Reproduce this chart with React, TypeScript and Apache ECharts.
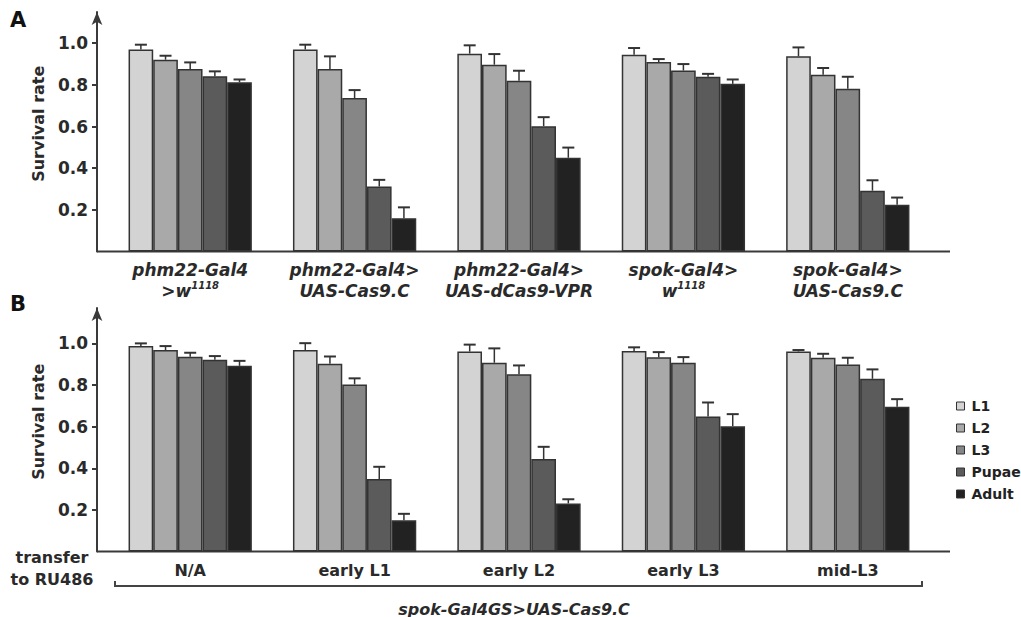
import React, { useEffect, useRef } from "react";
import * as echarts from "echarts";

const stages = ["L1", "L2", "L3", "Pupae", "Adult"];
const stageColors = ["#d3d3d3", "#a9a9a9", "#868686", "#5b5b5b", "#222222"];

const categoriesA = [
  "phm22-Gal4|>w|1118",
  "phm22-Gal4>|UAS-Cas9.C",
  "phm22-Gal4>|UAS-dCas9-VPR",
  "spok-Gal4>|w|1118",
  "spok-Gal4>|UAS-Cas9.C",
];
const categoriesB = ["N/A", "early L1", "early L2", "early L3", "mid-L3"];
const yTicks = [0.2, 0.4, 0.6, 0.8, 1.0];

// Panel A survival rates (mean) per stage, across the 5 genotypes
const aL1 = [0.97, 0.97, 0.95, 0.945, 0.937];
const aL2 = [0.921, 0.876, 0.897, 0.91, 0.849];
const aL3 = [0.876, 0.737, 0.82, 0.869, 0.781];
const aPupae = [0.842, 0.312, 0.602, 0.839, 0.292];
const aAdult = [0.813, 0.16, 0.45, 0.805, 0.225];
// Panel A error (upper bar length)
const aL1Err = [0.023, 0.023, 0.04, 0.032, 0.043];
const aL2Err = [0.019, 0.061, 0.051, 0.014, 0.032];
const aL3Err = [0.032, 0.038, 0.048, 0.031, 0.058];
const aPupaeErr = [0.023, 0.032, 0.043, 0.014, 0.05];
const aAdultErr = [0.013, 0.052, 0.049, 0.021, 0.034];

// Panel B survival rates per stage, across the 5 transfer times
const bL1 = [0.987, 0.968, 0.961, 0.963, 0.961];
const bL2 = [0.968, 0.902, 0.907, 0.933, 0.931];
const bL3 = [0.936, 0.803, 0.852, 0.907, 0.899];
const bPupae = [0.921, 0.348, 0.444, 0.649, 0.83];
const bAdult = [0.892, 0.15, 0.231, 0.602, 0.695];
const bL1Err = [0.013, 0.033, 0.033, 0.018, 0.007];
const bL2Err = [0.019, 0.035, 0.069, 0.025, 0.019];
const bL3Err = [0.019, 0.029, 0.042, 0.027, 0.032];
const bPupaeErr = [0.018, 0.059, 0.059, 0.067, 0.045];
const bAdultErr = [0.024, 0.031, 0.02, 0.058, 0.037];

const valuesA = [aL1, aL2, aL3, aPupae, aAdult];
const errorsA = [aL1Err, aL2Err, aL3Err, aPupaeErr, aAdultErr];
const valuesB = [bL1, bL2, bL3, bPupae, bAdult];
const errorsB = [bL1Err, bL2Err, bL3Err, bPupaeErr, bAdultErr];

const FONT = "DejaVu Sans";
const BAR_FRAC = 0.15;
const AXIS_COLOR = "#3a3a3a";

function labelA(v: string) {
  const parts = v.split("|");
  if (parts.length === 3) {
    return `{it|${parts[0]}}\n{it|${parts[1]}}{sup|${parts[2]}}`;
  }
  return `{it|${parts[0]}}\n{it|${parts[1]}}`;
}

function errData(values: number[][], errors: number[][]) {
  const out: number[][] = [];
  values.forEach((arr, s) => {
    arr.forEach((v, c) => {
      out.push([c, s, v, v + errors[s][c]]);
    });
  });
  return out;
}

function errRender(params: any, api: any) {
  const c = api.value(0);
  const s = api.value(1);
  const v = api.value(2);
  const t = api.value(3);
  const base = api.coord([c, v]);
  const top = api.coord([c, t]);
  const band = api.size([1, 0])[0];
  const x = base[0] + (s - 2) * band * BAR_FRAC;
  return {
    type: "group",
    children: [
      {
        type: "line",
        shape: { x1: x, y1: base[1], x2: x, y2: top[1] },
        style: { stroke: "#333", lineWidth: 1.5 },
      },
      {
        type: "line",
        shape: { x1: x - 6, y1: top[1], x2: x + 6, y2: top[1] },
        style: { stroke: "#333", lineWidth: 2 },
      },
    ],
  };
}

export default function App() {
  const ref = useRef<HTMLDivElement>(null);
  useEffect(() => {
    document.body.style.margin = "0";
    const chart = echarts.init(ref.current!, null, { renderer: "svg" });

    const yAxisCommon = (max: number, gridIndex: number) => ({
      type: "value",
      gridIndex,
      min: 0,
      max,
      offset: 11,
      name: "Survival rate",
      nameLocation: "middle",
      nameGap: 51,
      nameRotate: 90,
      nameTextStyle: {
        fontFamily: FONT,
        fontWeight: "bold",
        fontSize: 16,
        color: "#2a2a2a",
        padding: [0, 0, 0, 16],
      },
      axisLine: {
        show: true,
        symbol: ["none", "arrow"],
        symbolSize: [8, 13],
        lineStyle: { color: AXIS_COLOR, width: 2 },
      },
      axisTick: {
        show: true,
        length: 5,
        customValues: yTicks,
        lineStyle: { color: AXIS_COLOR, width: 2 },
      },
      axisLabel: {
        customValues: yTicks,
        margin: 9,
        formatter: (v: number) => v.toFixed(1),
        fontFamily: FONT,
        fontWeight: "bold",
        fontSize: 17,
        color: "#2a2a2a",
      },
      splitLine: { show: false },
    });

    const xAxisCommon = (gridIndex: number) => ({
      type: "category",
      gridIndex,
      axisLine: { show: false },
      axisTick: { show: false },
      splitLine: { show: false },
    });

    const series: any[] = [];
    stages.forEach((st, s) => {
      series.push({
        type: "bar",
        name: st,
        xAxisIndex: 0,
        yAxisIndex: 0,
        data: valuesA[s],
        barWidth: "15%",
        barGap: "0%",
        itemStyle: { color: stageColors[s], borderColor: "#333", borderWidth: 1.5 },
      });
    });
    stages.forEach((st, s) => {
      series.push({
        type: "bar",
        name: st,
        xAxisIndex: 1,
        yAxisIndex: 1,
        data: valuesB[s],
        barWidth: "15%",
        barGap: "0%",
        itemStyle: { color: stageColors[s], borderColor: "#333", borderWidth: 1.5 },
      });
    });
    series.push({
      type: "custom",
      xAxisIndex: 0,
      yAxisIndex: 0,
      renderItem: errRender,
      encode: { x: 0, y: [2, 3] },
      data: errData(valuesA, errorsA),
      z: 5,
      silent: true,
    });
    series.push({
      type: "custom",
      xAxisIndex: 1,
      yAxisIndex: 1,
      renderItem: errRender,
      encode: { x: 0, y: [2, 3] },
      data: errData(valuesB, errorsB),
      z: 5,
      silent: true,
    });

    const option: any = {
      animation: false,
      backgroundColor: "#ffffff",
      grid: [
        { left: 108, width: 822, top: 12, height: 239.5 },
        { left: 108, width: 822, top: 308, height: 243.5 },
      ],
      xAxis: [
        {
          ...xAxisCommon(0),
          data: categoriesA,
          axisLabel: {
            interval: 0,
            margin: 8,
            formatter: labelA,
            rich: {
              it: {
                fontFamily: FONT,
                fontWeight: "bold",
                fontStyle: "italic",
                fontSize: 17,
                lineHeight: 21,
                color: "#2a2a2a",
              },
              sup: {
                fontFamily: FONT,
                fontWeight: "bold",
                fontStyle: "italic",
                fontSize: 10,
                lineHeight: 21,
                verticalAlign: "top",
                padding: [0, 0, 8, 0],
                color: "#2a2a2a",
              },
            },
          },
        },
        {
          ...xAxisCommon(1),
          data: categoriesB,
          axisLabel: {
            interval: 0,
            margin: 9,
            fontFamily: FONT,
            fontWeight: "bold",
            fontSize: 16,
            lineHeight: 20,
            color: "#2a2a2a",
          },
        },
      ],
      yAxis: [yAxisCommon(1.15, 0), yAxisCommon(1.17, 1)],
      legend: {
        data: stages,
        orient: "vertical",
        left: 951,
        top: 394,
        itemWidth: 8,
        itemHeight: 8,
        itemGap: 8,
        icon: "rect",
        itemStyle: { borderColor: "#333", borderWidth: 1 },
        textStyle: { fontFamily: FONT, fontWeight: "bold", fontSize: 14, color: "#222", padding: [0, 0, 0, 2] },
      },
      graphic: [
        {
          type: "text",
          left: 10,
          top: 9,
          style: { text: "A", fontFamily: FONT, fontWeight: "bold", fontSize: 21, fill: "#111" },
        },
        {
          type: "text",
          left: 10,
          top: 293,
          style: { text: "B", fontFamily: FONT, fontWeight: "bold", fontSize: 21, fill: "#111" },
        },
        {
          type: "line",
          shape: { x1: 97, y1: 251.5, x2: 950, y2: 251.5 },
          style: { stroke: AXIS_COLOR, lineWidth: 2 },
        },
        {
          type: "line",
          shape: { x1: 97, y1: 551.5, x2: 950, y2: 551.5 },
          style: { stroke: AXIS_COLOR, lineWidth: 2 },
        },
        {
          type: "polyline",
          shape: { points: [[115, 581], [115, 586], [922, 586], [922, 581]] },
          style: { stroke: "#444", lineWidth: 2, fill: "none" },
        },
        {
          type: "text",
          x: 52,
          y: 568,
          style: {
            text: "transfer\nto RU486",
            align: "center",
            verticalAlign: "middle",
            lineHeight: 22,
            fontFamily: FONT,
            fontWeight: "bold",
            fontSize: 16,
            fill: "#2a2a2a",
          },
        },
        {
          type: "text",
          x: 514,
          y: 609,
          style: {
            text: "spok-Gal4GS>UAS-Cas9.C",
            align: "center",
            verticalAlign: "middle",
            fontFamily: FONT,
            fontWeight: "bold",
            fontStyle: "italic",
            fontSize: 16,
            fill: "#2a2a2a",
          },
        },
      ],
      series,
    };
    chart.setOption(option);
    return () => chart.dispose();
  }, []);
  return (
    <div
      ref={ref}
      style={{ position: "absolute", left: 0, top: 0, width: 1021, height: 617 }}
    />
  );
}
